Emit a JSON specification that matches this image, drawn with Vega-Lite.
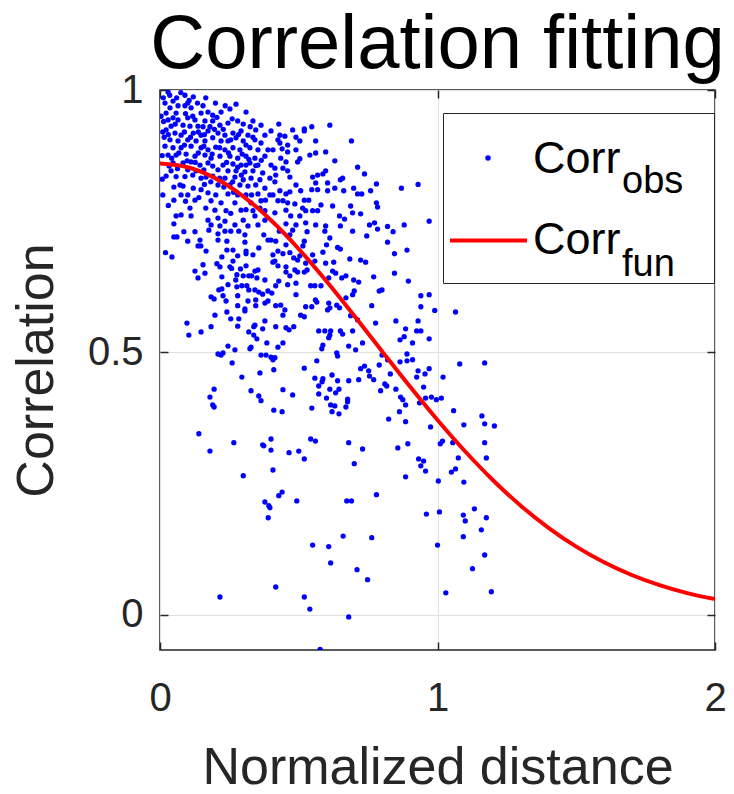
{
"$schema": "https://vega.github.io/schema/vega-lite/v6.json",
"width": 555,
"height": 560,
"autosize": {"type": "none"},
"padding": {"left": 160, "top": 90, "right": 19, "bottom": 144},
"background": "white",
"title": {"text": "Correlation fitting", "fontSize": 76, "font": "Liberation Sans", "fontWeight": "normal", "color": "#000000", "anchor": "middle", "offset": -14},
"config": {
  "view": {"stroke": "#262626", "strokeWidth": 1.5},
  "font": "Liberation Sans",
  "axis": {"labelFont": "Liberation Sans", "titleFont": "Liberation Sans", "labelColor": "#262626", "titleColor": "#262626", "tickColor": "#262626", "tickWidth": 1.5, "tickSize": -8, "domain": false, "gridColor": "#e0e0e0", "gridWidth": 1, "labelFontSize": 40, "titleFontSize": 52, "titleFontWeight": "normal", "labelFlush": false, "labelOverlap": false},
  "legend": {"labelFont": "Liberation Sans", "labelColor": "#000000", "title": null}
},
"datasets": {
"obs": [
{"dist":0.029,"corr":0.996},{"dist":0.09,"corr":0.99},{"dist":0.12,"corr":0.987},{"dist":0.018,"corr":0.975},{"dist":0.047,"corr":0.979},{"dist":0.065,"corr":0.97},{"dist":0.036,"corr":0.966},{"dist":0.022,"corr":0.956},{"dist":0.058,"corr":0.956},{"dist":0.09,"corr":0.97},{"dist":0.112,"corr":0.966},{"dist":0.148,"corr":0.956},{"dist":0.173,"corr":0.958},{"dist":0.19,"corr":0.952},{"dist":0.22,"corr":0.958},{"dist":0.252,"corr":0.964},{"dist":0.274,"corr":0.973},{"dist":0.31,"corr":0.958},{"dist":0.28,"corr":0.941},{"dist":0.029,"corr":0.943},{"dist":0.047,"corr":0.947},{"dist":0.065,"corr":0.943},{"dist":0.1,"corr":0.947},{"dist":0.126,"corr":0.943},{"dist":0.083,"corr":0.933},{"dist":0.04,"corr":0.931},{"dist":0.022,"corr":0.924},{"dist":0.108,"corr":0.931},{"dist":0.137,"corr":0.931},{"dist":0.162,"corr":0.941},{"dist":0.19,"corr":0.941},{"dist":0.216,"corr":0.933},{"dist":0.245,"corr":0.937},{"dist":0.335,"corr":0.941},{"dist":0.364,"corr":0.933},{"dist":0.345,"corr":0.924},{"dist":0.054,"corr":0.918},{"dist":0.076,"corr":0.914},{"dist":0.12,"corr":0.918},{"dist":0.148,"corr":0.914},{"dist":0.173,"corr":0.922},{"dist":0.209,"corr":0.918},{"dist":0.234,"corr":0.914},{"dist":0.263,"corr":0.918},{"dist":0.292,"corr":0.922},{"dist":0.317,"corr":0.914},{"dist":0.378,"corr":0.914},{"dist":0.4,"corr":0.922},{"dist":0.036,"corr":0.905},{"dist":0.065,"corr":0.903},{"dist":0.1,"corr":0.905},{"dist":0.13,"corr":0.903},{"dist":0.162,"corr":0.903},{"dist":0.19,"corr":0.909},{"dist":0.22,"corr":0.903},{"dist":0.245,"corr":0.903},{"dist":0.274,"corr":0.909},{"dist":0.3,"corr":0.903},{"dist":0.342,"corr":0.905},{"dist":0.364,"corr":0.899},{"dist":0.018,"corr":0.893},{"dist":0.047,"corr":0.89},{"dist":0.076,"corr":0.89},{"dist":0.112,"corr":0.893},{"dist":0.148,"corr":0.89},{"dist":0.173,"corr":0.886},{"dist":0.201,"corr":0.891},{"dist":0.234,"corr":0.886},{"dist":0.263,"corr":0.89},{"dist":0.288,"corr":0.886},{"dist":0.324,"corr":0.89},{"dist":0.353,"corr":0.886},{"dist":0.389,"corr":0.886},{"dist":0.029,"corr":0.876},{"dist":0.058,"corr":0.876},{"dist":0.094,"corr":0.878},{"dist":0.126,"corr":0.874},{"dist":0.162,"corr":0.876},{"dist":0.184,"corr":0.87},{"dist":0.216,"corr":0.874},{"dist":0.252,"corr":0.874},{"dist":0.28,"corr":0.87},{"dist":0.31,"corr":0.874},{"dist":0.342,"corr":0.87},{"dist":0.378,"corr":0.874},{"dist":0.047,"corr":0.861},{"dist":0.083,"corr":0.861},{"dist":0.112,"corr":0.863},{"dist":0.144,"corr":0.857},{"dist":0.173,"corr":0.861},{"dist":0.227,"corr":0.857},{"dist":0.263,"corr":0.859},{"dist":0.292,"corr":0.857},{"dist":0.324,"corr":0.861},{"dist":0.353,"corr":0.857},{"dist":0.4,"corr":0.857},{"dist":0.1,"corr":0.848},{"dist":0.13,"corr":0.846},{"dist":0.209,"corr":0.848},{"dist":0.245,"corr":0.846},{"dist":0.274,"corr":0.846},{"dist":0.306,"corr":0.844},{"dist":0.335,"corr":0.846},{"dist":0.37,"corr":0.842},{"dist":0.04,"corr":0.846},{"dist":0.022,"corr":0.836},{"dist":0.166,"corr":0.834},{"dist":0.19,"corr":0.836},{"dist":0.234,"corr":0.832},{"dist":0.27,"corr":0.834},{"dist":0.3,"corr":0.829},{"dist":0.328,"corr":0.832},{"dist":0.36,"corr":0.829},{"dist":0.396,"corr":0.832},{"dist":0.209,"corr":0.819},{"dist":0.252,"corr":0.819},{"dist":0.288,"corr":0.819},{"dist":0.317,"corr":0.817},{"dist":0.345,"corr":0.819},{"dist":0.378,"corr":0.813},{"dist":0.083,"corr":0.817},{"dist":0.12,"corr":0.813},{"dist":0.148,"corr":0.81},{"dist":0.076,"corr":0.8},{"dist":0.173,"corr":0.804},{"dist":0.201,"corr":0.8},{"dist":0.245,"corr":0.802},{"dist":0.28,"corr":0.8},{"dist":0.31,"corr":0.8},{"dist":0.353,"corr":0.802},{"dist":0.396,"corr":0.8},{"dist":0.126,"corr":0.79},{"dist":0.184,"corr":0.789},{"dist":0.22,"corr":0.785},{"dist":0.27,"corr":0.785},{"dist":0.328,"corr":0.785},{"dist":0.364,"corr":0.789},{"dist":0.108,"corr":0.775},{"dist":0.198,"corr":0.771},{"dist":0.238,"corr":0.77},{"dist":0.292,"corr":0.771},{"dist":0.335,"corr":0.77},{"dist":0.378,"corr":0.77},{"dist":0.076,"corr":0.762},{"dist":0.112,"corr":0.76},{"dist":0.058,"corr":0.76},{"dist":0.173,"corr":0.752},{"dist":0.209,"corr":0.756},{"dist":0.234,"corr":0.75},{"dist":0.3,"corr":0.752},{"dist":0.342,"corr":0.76},{"dist":0.378,"corr":0.752},{"dist":0.184,"corr":0.743},{"dist":0.216,"corr":0.741},{"dist":0.27,"corr":0.743},{"dist":0.317,"corr":0.741},{"dist":0.353,"corr":0.743},{"dist":0.072,"corr":0.819},
{"dist":0.01,"corr":0.8},{"dist":0.03,"corr":0.78},{"dist":0.02,"corr":0.69},{"dist":0.05,"corr":0.745},{"dist":0.008,"corr":0.83},{"dist":0.015,"corr":0.91},{"dist":0.004,"corr":0.95},{"dist":0.06,"corr":0.985},{"dist":0.1,"corr":0.975},{"dist":0.155,"corr":0.97},
{"dist":0.012,"corr":0.985},{"dist":0.035,"corr":0.99},{"dist":0.075,"corr":0.995},{"dist":0.105,"corr":0.98},{"dist":0.135,"corr":0.975},{"dist":0.165,"corr":0.985},{"dist":0.2,"corr":0.975},{"dist":0.235,"corr":0.97},{"dist":0.013,"corr":0.94},{"dist":0.055,"corr":0.935},{"dist":0.092,"corr":0.955},{"dist":0.118,"corr":0.95},{"dist":0.155,"corr":0.93},{"dist":0.18,"corr":0.93},{"dist":0.205,"corr":0.948},{"dist":0.228,"corr":0.925},{"dist":0.26,"corr":0.945},{"dist":0.3,"corr":0.935},{"dist":0.325,"corr":0.93},{"dist":0.01,"corr":0.92},{"dist":0.03,"corr":0.915},{"dist":0.088,"corr":0.92},{"dist":0.11,"corr":0.91},{"dist":0.138,"corr":0.92},{"dist":0.16,"corr":0.915},{"dist":0.196,"corr":0.925},{"dist":0.255,"corr":0.905},{"dist":0.283,"corr":0.915},{"dist":0.31,"corr":0.895},{"dist":0.335,"corr":0.91},{"dist":0.008,"corr":0.875},{"dist":0.042,"corr":0.87},{"dist":0.068,"corr":0.88},{"dist":0.088,"corr":0.895},{"dist":0.138,"corr":0.88},{"dist":0.158,"corr":0.893},{"dist":0.188,"corr":0.878},{"dist":0.215,"corr":0.89},{"dist":0.247,"corr":0.88},{"dist":0.296,"corr":0.878},{"dist":0.32,"corr":0.868},{"dist":0.365,"corr":0.866},{"dist":0.033,"corr":0.855},{"dist":0.063,"corr":0.85},{"dist":0.098,"corr":0.865},{"dist":0.127,"corr":0.862},{"dist":0.158,"corr":0.848},{"dist":0.19,"corr":0.855},{"dist":0.24,"corr":0.862},{"dist":0.28,"corr":0.853},{"dist":0.31,"corr":0.857},{"dist":0.345,"corr":0.856},{"dist":0.058,"corr":0.835},{"dist":0.09,"corr":0.835},{"dist":0.118,"corr":0.838},{"dist":0.148,"corr":0.832},{"dist":0.183,"corr":0.825},{"dist":0.215,"corr":0.832},{"dist":0.262,"corr":0.825},{"dist":0.293,"corr":0.838},{"dist":0.05,"corr":0.815},{"dist":0.1,"corr":0.8},{"dist":0.14,"corr":0.795},{"dist":0.16,"corr":0.82},{"dist":0.23,"corr":0.815},{"dist":0.265,"corr":0.805},{"dist":0.33,"corr":0.8},{"dist":0.38,"corr":0.79},{"dist":0.05,"corr":0.79},{"dist":0.092,"corr":0.788},{"dist":0.165,"corr":0.775},{"dist":0.255,"corr":0.765},{"dist":0.31,"corr":0.772},{"dist":0.36,"corr":0.775},
{"dist":0.428,"corr":0.935},{"dist":0.478,"corr":0.924},{"dist":0.52,"corr":0.926},{"dist":0.547,"corr":0.93},{"dist":0.612,"corr":0.933},{"dist":0.432,"corr":0.914},{"dist":0.45,"corr":0.912},{"dist":0.49,"corr":0.91},{"dist":0.52,"corr":0.922},{"dist":0.425,"corr":0.905},{"dist":0.432,"corr":0.899},{"dist":0.46,"corr":0.895},{"dist":0.504,"corr":0.903},{"dist":0.561,"corr":0.903},{"dist":0.69,"corr":0.903},{"dist":0.407,"corr":0.886},{"dist":0.44,"corr":0.888},{"dist":0.46,"corr":0.882},{"dist":0.49,"corr":0.886},{"dist":0.435,"corr":0.87},{"dist":0.504,"corr":0.869},{"dist":0.54,"corr":0.876},{"dist":0.561,"corr":0.88},{"dist":0.597,"corr":0.882},{"dist":0.454,"corr":0.863},{"dist":0.496,"corr":0.863},{"dist":0.63,"corr":0.865},{"dist":0.414,"corr":0.851},{"dist":0.443,"corr":0.851},{"dist":0.46,"corr":0.846},{"dist":0.597,"corr":0.846},{"dist":0.712,"corr":0.853},{"dist":0.417,"corr":0.838},{"dist":0.468,"corr":0.834},{"dist":0.55,"corr":0.834},{"dist":0.568,"corr":0.838},{"dist":0.587,"corr":0.84},{"dist":0.737,"corr":0.84},{"dist":0.414,"corr":0.825},{"dist":0.49,"corr":0.819},{"dist":0.561,"corr":0.823},{"dist":0.604,"corr":0.823},{"dist":0.65,"corr":0.829},{"dist":0.658,"corr":0.832},{"dist":0.78,"corr":0.821},{"dist":0.63,"corr":0.813},{"dist":0.698,"corr":0.813},{"dist":0.432,"corr":0.808},{"dist":0.454,"corr":0.802},{"dist":0.468,"corr":0.806},{"dist":0.507,"corr":0.808},{"dist":0.547,"corr":0.81},{"dist":0.568,"corr":0.81},{"dist":0.604,"corr":0.808},{"dist":0.662,"corr":0.808},{"dist":0.712,"corr":0.802},{"dist":0.727,"corr":0.802},{"dist":0.759,"corr":0.808},{"dist":0.407,"corr":0.8},{"dist":0.425,"corr":0.789},{"dist":0.443,"corr":0.789},{"dist":0.46,"corr":0.785},{"dist":0.486,"corr":0.783},{"dist":0.52,"corr":0.79},{"dist":0.536,"corr":0.79},{"dist":0.58,"corr":0.781},{"dist":0.622,"corr":0.779},{"dist":0.687,"corr":0.779},{"dist":0.78,"corr":0.785},{"dist":0.784,"corr":0.777},{"dist":0.454,"corr":0.771},{"dist":0.514,"corr":0.775},{"dist":0.525,"corr":0.77},{"dist":0.55,"corr":0.77},{"dist":0.568,"corr":0.77},{"dist":0.694,"corr":0.766},{"dist":0.723,"corr":0.764},{"dist":0.414,"corr":0.766},{"dist":0.471,"corr":0.76},{"dist":0.504,"corr":0.76},{"dist":0.647,"corr":0.76},{"dist":0.665,"corr":0.754},{"dist":0.454,"corr":0.745},{"dist":0.49,"corr":0.743},{"dist":0.525,"corr":0.747},{"dist":0.561,"corr":0.743},{"dist":0.597,"corr":0.741},{"dist":0.65,"corr":0.741},{"dist":0.755,"corr":0.743},{"dist":0.773,"corr":0.747},
{"dist":0.87,"corr":0.813},{"dist":0.93,"corr":0.82},{"dist":0.82,"corr":0.74},{"dist":0.88,"corr":0.743},{"dist":0.97,"corr":0.75},
{"dist":0.84,"corr":0.73},{"dist":0.82,"corr":0.71},{"dist":0.845,"corr":0.688},{"dist":0.89,"corr":0.695},{"dist":0.845,"corr":0.651},{"dist":0.895,"corr":0.636},{"dist":0.94,"corr":0.608},{"dist":0.97,"corr":0.61},{"dist":0.94,"corr":0.587},{"dist":0.99,"corr":0.58},{"dist":1.065,"corr":0.577},{"dist":0.85,"corr":0.56},{"dist":0.93,"corr":0.56},{"dist":0.885,"corr":0.545},{"dist":0.925,"corr":0.541},{"dist":0.94,"corr":0.541},{"dist":0.88,"corr":0.53},{"dist":0.865,"corr":0.524},{"dist":0.97,"corr":0.526},{"dist":0.91,"corr":0.518},{"dist":0.89,"corr":0.497},{"dist":0.865,"corr":0.482},{"dist":0.89,"corr":0.484},{"dist":0.91,"corr":0.486},{"dist":1.08,"corr":0.478},{"dist":1.17,"corr":0.48},{"dist":0.97,"corr":0.469},
{"dist":0.83,"corr":0.459},{"dist":0.93,"corr":0.465},{"dist":0.955,"corr":0.459},{"dist":0.925,"corr":0.453},{"dist":1.02,"corr":0.453},{"dist":0.85,"corr":0.43},{"dist":0.95,"corr":0.434},{"dist":0.867,"corr":0.415},{"dist":0.875,"corr":0.41},{"dist":0.885,"corr":0.4},{"dist":0.957,"corr":0.413},{"dist":0.978,"corr":0.415},{"dist":0.996,"corr":0.41},{"dist":1.014,"corr":0.413},{"dist":0.935,"corr":0.404},{"dist":0.863,"corr":0.387},{"dist":0.824,"corr":0.373},{"dist":0.885,"corr":0.368},{"dist":1.058,"corr":0.389},{"dist":0.975,"corr":0.358},{"dist":1.095,"corr":0.362},{"dist":1.16,"corr":0.379},{"dist":1.17,"corr":0.364},{"dist":1.205,"corr":0.36},{"dist":1.01,"corr":0.326},{"dist":1.018,"corr":0.331},{"dist":0.857,"corr":0.318},{"dist":0.893,"corr":0.326},{"dist":1.055,"corr":0.328},{"dist":1.17,"corr":0.328},{"dist":0.932,"corr":0.297},{"dist":0.95,"corr":0.293},{"dist":0.94,"corr":0.284},{"dist":0.957,"corr":0.274},{"dist":1.075,"corr":0.299},{"dist":1.176,"corr":0.299},{"dist":1.065,"corr":0.278},{"dist":1.05,"corr":0.272},{"dist":0.885,"corr":0.263},{"dist":1.003,"corr":0.255},{"dist":1.095,"corr":0.253},{"dist":1.133,"corr":0.202},
{"dist":0.96,"corr":0.192},{"dist":1.007,"corr":0.196},{"dist":1.093,"corr":0.19},{"dist":1.1,"corr":0.179},{"dist":1.176,"corr":0.185},{"dist":1.158,"corr":0.162},{"dist":1.093,"corr":0.149},{"dist":1.0,"corr":0.133},{"dist":1.17,"corr":0.114},{"dist":1.126,"corr":0.088},{"dist":1.03,"corr":0.042},{"dist":1.194,"corr":0.044},
{"dist":0.417,"corr":0.053},{"dist":0.55,"corr":0.133},{"dist":0.608,"corr":0.13},{"dist":0.66,"corr":0.15},{"dist":0.763,"corr":0.147},{"dist":0.615,"corr":0.099},{"dist":0.71,"corr":0.086},{"dist":0.748,"corr":0.067},{"dist":0.52,"corr":0.034},{"dist":0.54,"corr":0.011},{"dist":0.68,"corr":-0.004},{"dist":0.577,"corr":-0.066},
{"dist":0.39,"corr":0.185},{"dist":0.396,"corr":0.204},{"dist":0.216,"corr":0.034},
{"dist":0.295,"corr":0.453},{"dist":0.36,"corr":0.461},{"dist":0.41,"corr":0.467},{"dist":0.195,"corr":0.43},{"dist":0.18,"corr":0.415},{"dist":0.19,"corr":0.4},{"dist":0.195,"corr":0.396},{"dist":0.328,"corr":0.427},{"dist":0.356,"corr":0.417},{"dist":0.364,"corr":0.408},{"dist":0.41,"corr":0.39},{"dist":0.14,"corr":0.345},{"dist":0.18,"corr":0.312},{"dist":0.266,"corr":0.328},{"dist":0.37,"corr":0.324},{"dist":0.374,"corr":0.322},{"dist":0.4,"corr":0.335},{"dist":0.4,"corr":0.314},{"dist":0.407,"corr":0.276},{"dist":0.3,"corr":0.265},{"dist":0.378,"corr":0.215},{"dist":0.392,"corr":0.208},
{"dist":0.52,"corr":0.47},{"dist":0.558,"corr":0.451},{"dist":0.587,"corr":0.45},{"dist":0.584,"corr":0.444},{"dist":0.62,"corr":0.457},{"dist":0.64,"corr":0.446},{"dist":0.68,"corr":0.446},{"dist":0.716,"corr":0.448},{"dist":0.723,"corr":0.469},{"dist":0.752,"corr":0.465},{"dist":0.755,"corr":0.455},{"dist":0.77,"corr":0.448},{"dist":0.81,"corr":0.44},{"dist":0.817,"corr":0.436},{"dist":0.795,"corr":0.427},{"dist":0.443,"corr":0.429},{"dist":0.478,"corr":0.419},{"dist":0.572,"corr":0.436},{"dist":0.612,"corr":0.43},{"dist":0.645,"corr":0.43},{"dist":0.633,"corr":0.423},{"dist":0.572,"corr":0.421},{"dist":0.6,"corr":0.413},{"dist":0.676,"corr":0.411},{"dist":0.676,"corr":0.406},{"dist":0.615,"corr":0.4},{"dist":0.63,"corr":0.398},{"dist":0.67,"corr":0.396},{"dist":0.547,"corr":0.394},{"dist":0.62,"corr":0.387},{"dist":0.645,"corr":0.383},{"dist":0.44,"corr":0.387},{"dist":0.543,"corr":0.335},{"dist":0.56,"corr":0.331},{"dist":0.68,"corr":0.328},{"dist":0.465,"corr":0.309},{"dist":0.5,"corr":0.312},{"dist":0.52,"corr":0.297},{"dist":0.73,"corr":0.316},{"dist":0.7,"corr":0.288},{"dist":0.44,"corr":0.234},{"dist":0.428,"corr":0.227},{"dist":0.493,"corr":0.217},{"dist":0.78,"corr":0.229},{"dist":0.673,"corr":0.217},{"dist":0.69,"corr":0.217},
{"dist":0.05,"corr":0.72},{"dist":0.061,"corr":0.72},{"dist":0.086,"corr":0.73},{"dist":0.1,"corr":0.712},{"dist":0.126,"corr":0.73},{"dist":0.144,"corr":0.714},{"dist":0.137,"corr":0.703},{"dist":0.147,"corr":0.703},{"dist":0.166,"corr":0.693},{"dist":0.043,"corr":0.682},{"dist":0.176,"corr":0.733},{"dist":0.209,"corr":0.726},{"dist":0.209,"corr":0.714},{"dist":0.234,"corr":0.731},{"dist":0.241,"corr":0.712},{"dist":0.255,"corr":0.731},{"dist":0.284,"corr":0.731},{"dist":0.306,"corr":0.724},{"dist":0.306,"corr":0.71},{"dist":0.31,"corr":0.693},{"dist":0.31,"corr":0.688},{"dist":0.356,"corr":0.699},{"dist":0.374,"corr":0.724},{"dist":0.389,"corr":0.714},{"dist":0.4,"corr":0.714},{"dist":0.241,"corr":0.695},{"dist":0.263,"corr":0.695},{"dist":0.28,"corr":0.684},{"dist":0.263,"corr":0.674},{"dist":0.223,"corr":0.682},{"dist":0.335,"corr":0.686},{"dist":0.407,"corr":0.672},{"dist":0.126,"corr":0.655},{"dist":0.137,"corr":0.642},{"dist":0.155,"corr":0.667},{"dist":0.162,"corr":0.651},{"dist":0.205,"corr":0.669},{"dist":0.216,"corr":0.663},{"dist":0.223,"corr":0.644},{"dist":0.252,"corr":0.663},{"dist":0.258,"corr":0.66},{"dist":0.277,"corr":0.648},{"dist":0.273,"corr":0.638},{"dist":0.29,"corr":0.659},{"dist":0.31,"corr":0.665},{"dist":0.3,"corr":0.646},{"dist":0.32,"corr":0.646},{"dist":0.33,"corr":0.646},{"dist":0.342,"corr":0.655},{"dist":0.353,"corr":0.657},{"dist":0.349,"corr":0.642},{"dist":0.378,"corr":0.638},{"dist":0.277,"corr":0.625},{"dist":0.295,"corr":0.627},{"dist":0.313,"corr":0.627},{"dist":0.32,"corr":0.619},{"dist":0.342,"corr":0.619},{"dist":0.356,"corr":0.615},{"dist":0.37,"corr":0.611},{"dist":0.389,"corr":0.617},{"dist":0.403,"corr":0.613},{"dist":0.212,"corr":0.619},{"dist":0.223,"corr":0.621},{"dist":0.245,"corr":0.629},{"dist":0.184,"corr":0.606},{"dist":0.195,"corr":0.602},{"dist":0.227,"corr":0.608},{"dist":0.238,"corr":0.598},{"dist":0.28,"corr":0.608},{"dist":0.317,"corr":0.598},{"dist":0.345,"corr":0.6},{"dist":0.378,"corr":0.594},{"dist":0.389,"corr":0.598},{"dist":0.241,"corr":0.577},{"dist":0.28,"corr":0.589},{"dist":0.306,"corr":0.583},{"dist":0.306,"corr":0.579},{"dist":0.345,"corr":0.589},{"dist":0.198,"corr":0.571},{"dist":0.255,"corr":0.564},{"dist":0.284,"corr":0.564},{"dist":0.378,"corr":0.56},{"dist":0.097,"corr":0.556},{"dist":0.104,"corr":0.533},{"dist":0.148,"corr":0.539},{"dist":0.184,"corr":0.549},{"dist":0.28,"corr":0.55},{"dist":0.342,"corr":0.552},{"dist":0.338,"corr":0.549},{"dist":0.37,"corr":0.545},{"dist":0.32,"corr":0.539},{"dist":0.338,"corr":0.533},{"dist":0.349,"corr":0.526},{"dist":0.385,"corr":0.518},{"dist":0.245,"corr":0.512},{"dist":0.27,"corr":0.505},{"dist":0.324,"corr":0.507},{"dist":0.328,"corr":0.51},{"dist":0.209,"corr":0.497},{"dist":0.22,"corr":0.495},{"dist":0.227,"corr":0.499},{"dist":0.364,"corr":0.495},{"dist":0.382,"corr":0.495},{"dist":0.4,"corr":0.491},{"dist":0.26,"corr":0.48},{"dist":0.407,"corr":0.486},
{"dist":0.417,"corr":0.712},{"dist":0.43,"corr":0.731},{"dist":0.468,"corr":0.724},{"dist":0.478,"corr":0.733},{"dist":0.454,"corr":0.705},{"dist":0.425,"corr":0.693},{"dist":0.407,"corr":0.686},{"dist":0.443,"corr":0.688},{"dist":0.414,"corr":0.674},{"dist":0.468,"corr":0.69},{"dist":0.482,"corr":0.68},{"dist":0.504,"corr":0.684},{"dist":0.52,"corr":0.712},{"dist":0.515,"corr":0.703},{"dist":0.53,"corr":0.73},{"dist":0.594,"corr":0.731},{"dist":0.6,"corr":0.705},{"dist":0.587,"corr":0.691},{"dist":0.612,"corr":0.718},{"dist":0.64,"corr":0.7},{"dist":0.65,"corr":0.697},{"dist":0.694,"corr":0.731},{"dist":0.745,"corr":0.722},{"dist":0.784,"corr":0.735},{"dist":0.55,"corr":0.686},{"dist":0.558,"corr":0.674},{"dist":0.525,"corr":0.67},{"dist":0.496,"corr":0.676},{"dist":0.425,"corr":0.665},{"dist":0.454,"corr":0.663},{"dist":0.454,"corr":0.653},{"dist":0.486,"corr":0.657},{"dist":0.496,"corr":0.653},{"dist":0.52,"corr":0.653},{"dist":0.53,"corr":0.657},{"dist":0.597,"corr":0.67},{"dist":0.626,"corr":0.672},{"dist":0.622,"corr":0.655},{"dist":0.633,"corr":0.651},{"dist":0.684,"corr":0.678},{"dist":0.723,"corr":0.676},{"dist":0.741,"corr":0.672},{"dist":0.67,"corr":0.646},{"dist":0.698,"corr":0.638},{"dist":0.716,"corr":0.634},{"dist":0.77,"corr":0.644},{"dist":0.655,"corr":0.642},{"dist":0.468,"corr":0.646},{"dist":0.428,"corr":0.636},{"dist":0.417,"corr":0.627},{"dist":0.46,"corr":0.629},{"dist":0.49,"corr":0.632},{"dist":0.49,"corr":0.61},{"dist":0.543,"corr":0.627},{"dist":0.558,"corr":0.627},{"dist":0.58,"corr":0.627},{"dist":0.608,"corr":0.642},{"dist":0.7,"corr":0.617},{"dist":0.694,"corr":0.61},{"dist":0.67,"corr":0.604},{"dist":0.79,"corr":0.617},{"dist":0.8,"corr":0.619},{"dist":0.56,"corr":0.6},{"dist":0.565,"corr":0.596},{"dist":0.608,"corr":0.594},{"dist":0.612,"corr":0.585},{"dist":0.637,"corr":0.59},{"dist":0.647,"corr":0.585},{"dist":0.604,"corr":0.581},{"dist":0.525,"corr":0.587},{"dist":0.547,"corr":0.587},{"dist":0.763,"corr":0.589},{"dist":0.417,"corr":0.589},{"dist":0.435,"corr":0.59},{"dist":0.45,"corr":0.581},{"dist":0.443,"corr":0.571},{"dist":0.507,"corr":0.571},{"dist":0.52,"corr":0.568},{"dist":0.687,"corr":0.57},{"dist":0.712,"corr":0.562},{"dist":0.777,"corr":0.556},{"dist":0.417,"corr":0.549},{"dist":0.454,"corr":0.547},{"dist":0.465,"corr":0.543},{"dist":0.482,"corr":0.549},{"dist":0.572,"corr":0.541},{"dist":0.594,"corr":0.541},{"dist":0.612,"corr":0.533},{"dist":0.615,"corr":0.541},{"dist":0.65,"corr":0.541},{"dist":0.658,"corr":0.535},{"dist":0.694,"corr":0.541},{"dist":0.608,"corr":0.528},{"dist":0.443,"corr":0.518},{"dist":0.425,"corr":0.51},{"dist":0.587,"corr":0.514},{"dist":0.583,"corr":0.507},{"dist":0.68,"corr":0.512},{"dist":0.73,"corr":0.518},{"dist":0.637,"corr":0.499},{"dist":0.64,"corr":0.493},{"dist":0.705,"corr":0.505},{"dist":0.565,"corr":0.484},{"dist":0.737,"corr":0.474},{"dist":0.79,"corr":0.476},{"dist":0.8,"corr":0.495},{"dist":0.82,"corr":0.486},{"dist":0.414,"corr":0.49}
],
"fun": [
{"dist":0.0,"corr":0.86},{"dist":0.1,"corr":0.8528},{"dist":0.2,"corr":0.8316},{"dist":0.3,"corr":0.7974},{"dist":0.4,"corr":0.7518},{"dist":0.5,"corr":0.6971},{"dist":0.6,"corr":0.6356},{"dist":0.7,"corr":0.5698},{"dist":0.8,"corr":0.5024},{"dist":0.9,"corr":0.4355},{"dist":1.0,"corr":0.3713},{"dist":1.1,"corr":0.3112},{"dist":1.2,"corr":0.2565},{"dist":1.3,"corr":0.2079},{"dist":1.4,"corr":0.1658},{"dist":1.5,"corr":0.1299},{"dist":1.6,"corr":0.1001},{"dist":1.7,"corr":0.0759},{"dist":1.8,"corr":0.0566},{"dist":1.9,"corr":0.0414},{"dist":2.0,"corr":0.0299}
]
},
"layer": [
{
  "data": {"name": "obs"},
  "mark": {"type": "circle", "opacity": 1, "clip": true},
  "encoding": {
    "x": {"field": "dist", "type": "quantitative", "scale": {"domain": [0, 2], "nice": false, "zero": false},
          "axis": {"orient": "bottom", "values": [0, 1, 2], "title": "Normalized distance", "grid": true, "labelPadding": 36, "titlePadding": 24, "format": ".1~f"}},
    "y": {"field": "corr", "type": "quantitative", "scale": {"domain": [-0.067, 1], "nice": false, "zero": false},
          "axis": {"orient": "left", "values": [0, 0.5, 1], "title": "Correlation", "grid": true, "labelPadding": 25, "titlePadding": 24, "format": ".1~f"}},
    "fill": {"datum": "obs", "type": "nominal", "scale": {"domain": ["obs"], "range": ["#0000ff"]},
      "legend": {"orient": "none", "legendX": 323, "legendY": 63, "padding": 0, "symbolType": "circle", "symbolSize": 30, "symbolStrokeWidth": 0, "symbolOpacity": 1, "labelExpr": "''", "labelFontSize": 10}},
    "strokeDash": {"datum": "a", "type": "nominal", "scale": {"domain": ["a", "b", "c", "d"], "range": [[1, 0], [1, 0], [1, 0], [1, 0]]},
      "legend": {"orient": "none", "legendX": 283, "legendY": 23, "columns": 2, "columnPadding": 3, "padding": 5, "rowPadding": 2, "labelOffset": 4,
        "symbolType": "circle", "symbolSize": 5929, "symbolStrokeWidth": 4, "symbolOpacity": 0,
        "labelFontSize": 45, "labelExpr": "(datum.value === 'a' || datum.value === 'b') ? 'Corr' : ''",
        "strokeColor": "#262626"}},
    "size": {"datum": "o", "type": "ordinal", "scale": {"domain": ["o", "f"], "range": [28, 28]},
      "legend": {"orient": "none", "legendX": 424, "legendY": 73, "padding": 0, "rowPadding": 45, "labelOffset": 0,
        "symbolOpacity": 0, "labelFontSize": 38, "labelExpr": "datum.value === 'o' ? 'obs' : 'fun'"}}
  }
},
{
  "data": {"name": "fun"},
  "mark": {"type": "line", "strokeWidth": 4, "interpolate": "monotone", "clip": true},
  "encoding": {
    "x": {"field": "dist", "type": "quantitative",
          "axis": {"orient": "top", "values": [0, 1, 2], "labels": false, "title": null, "grid": false}},
    "y": {"field": "corr", "type": "quantitative",
          "axis": {"orient": "right", "values": [0, 0.5, 1], "labels": false, "title": null, "grid": false}},
    "stroke": {"datum": "fun", "type": "nominal", "scale": {"domain": ["fun"], "range": ["#ff0000"]},
      "legend": {"orient": "none", "legendX": 288, "legendY": 110, "padding": 0, "symbolType": "stroke", "symbolSize": 5929, "symbolStrokeWidth": 4, "symbolOpacity": 1, "labelExpr": "''", "labelFontSize": 10}}
  }
}
],
"resolve": {"axis": {"x": "independent", "y": "independent"}}
}
